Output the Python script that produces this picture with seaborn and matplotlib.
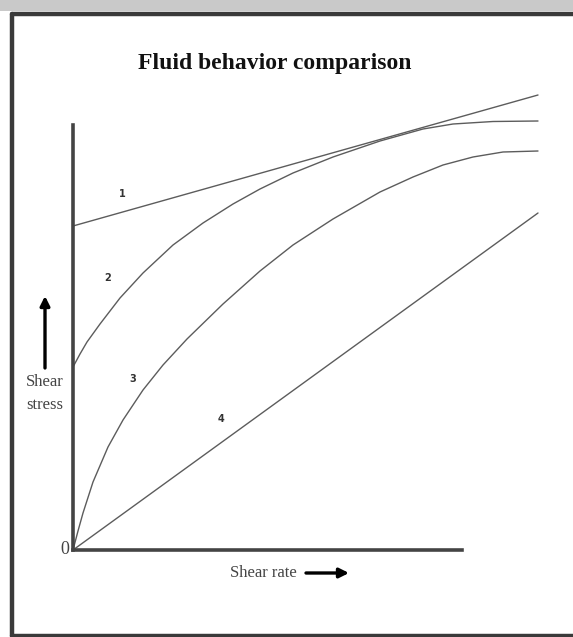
import matplotlib
matplotlib.use("Agg")
import matplotlib.pyplot as plt
from matplotlib.patches import Rectangle
from matplotlib.lines import Line2D
import seaborn as sns
import pandas as pd

# ---- data (units: shear rate / shear stress, arbitrary) ----
curve1_x = [0, 465]
curve1_y = [324, 455]

curve2_x = [0, 7, 14, 27, 47, 70, 100, 130, 160, 187, 220, 260, 307, 350, 380, 420, 465]
curve2_y = [183, 196, 208, 226, 252, 277, 305, 327, 346, 361, 377, 393, 409, 421, 426, 428.5, 429]

curve3_x = [0, 5, 10, 20, 35, 50, 70, 90, 114, 150, 187, 220, 260, 307, 340, 370, 400, 430, 465]
curve3_y = [0, 19, 37, 68, 103, 130, 160, 185, 211, 246, 279, 305, 331, 358, 373, 385, 393, 398, 399]

curve4_x = [0, 465]
curve4_y = [0, 337]

curve_names = ["1", "2", "3", "4"]
label_x = [49, 35, 60, 148]
label_y = [356, 272, 171, 131]

title = "Fluid behavior comparison"
xlabel = "Shear rate"
ylabel_lines = ["Shear", "stress"]
origin_label = "0"

# ---- figure ----
sns.set_style("white")
plt.rcParams["font.family"] = ["Liberation Serif", "DejaVu Serif"]

W, H = 573, 637
fig = plt.figure(figsize=(W / 100, H / 100), dpi=100)
fig.patch.set_facecolor("white")

# outer frame like the scanned figure
fig.patches.append(Rectangle((0, 1 - 11 / H), 1, 11 / H, transform=fig.transFigure,
                             facecolor="#c9c9c9", edgecolor="none"))
frame_kw = dict(transform=fig.transFigure, color="#3a3a3a", lw=3.2)
fig.lines.append(Line2D([12 / W, 1], [1 - 13.5 / H, 1 - 13.5 / H], **frame_kw))
fig.lines.append(Line2D([12 / W, 12 / W], [1 - 13.5 / H, 1 - 635.5 / H], **frame_kw))
fig.lines.append(Line2D([12 / W, 1], [1 - 635.5 / H, 1 - 635.5 / H], **frame_kw))

ax_left, ax_bottom = 73 / W, (H - 550) / H
ax_w, ax_h = 389 / W, 425 / H
ax = fig.add_axes([ax_left, ax_bottom, ax_w, ax_h])
ax.set_facecolor("none")

line_color = "#5c5c5c"
for xs, ys in [(curve1_x, curve1_y), (curve2_x, curve2_y),
               (curve3_x, curve3_y), (curve4_x, curve4_y)]:
    df = pd.DataFrame({"x": xs, "y": ys})
    sns.lineplot(data=df, x="x", y="y", ax=ax, sort=False, color=line_color,
                 lw=1.0, clip_on=False)

for name, lx, ly in zip(curve_names, label_x, label_y):
    ax.text(lx, ly, name, fontsize=7, fontweight="bold", family="DejaVu Sans",
            color="#333333", ha="center", va="center")

ax.set_xlim(0, 389)
ax.set_ylim(0, 425)
ax.set_xticks([])
ax.set_yticks([])
ax.set_xlabel("")
ax.set_ylabel("")
for s in ["top", "right"]:
    ax.spines[s].set_visible(False)
for s in ["left", "bottom"]:
    ax.spines[s].set_color("#444444")
    ax.spines[s].set_linewidth(2.6)

ax.text(-8, 1, origin_label, fontsize=13, color="#444444", ha="center", va="center")

# title
fig.text(275 / W, 1 - 63 / H, title, fontsize=17, fontweight="bold",
         ha="center", va="center", color="#111111")

# x label with arrow
fig.text(263 / W, 1 - 573 / H, xlabel, fontsize=12, color="#444444",
         ha="center", va="center")
ax.annotate("", xy=(349 / W, 1 - 573 / H), xytext=(306 / W, 1 - 573 / H),
            xycoords="figure fraction", textcoords="figure fraction",
            arrowprops=dict(arrowstyle="-|>", lw=2.4, color="black",
                            mutation_scale=14, shrinkA=0, shrinkB=0))

# y label with arrow
fig.text(45 / W, 1 - 382 / H, ylabel_lines[0], fontsize=12, color="#444444",
         ha="center", va="center")
fig.text(45 / W, 1 - 405 / H, ylabel_lines[1], fontsize=12, color="#444444",
         ha="center", va="center")
ax.annotate("", xy=(45 / W, 1 - 296 / H), xytext=(45 / W, 1 - 368 / H),
            xycoords="figure fraction", textcoords="figure fraction",
            arrowprops=dict(arrowstyle="-|>", lw=2.4, color="black",
                            mutation_scale=14, shrinkA=0, shrinkB=0))

fig.savefig("out.png", dpi=100)
